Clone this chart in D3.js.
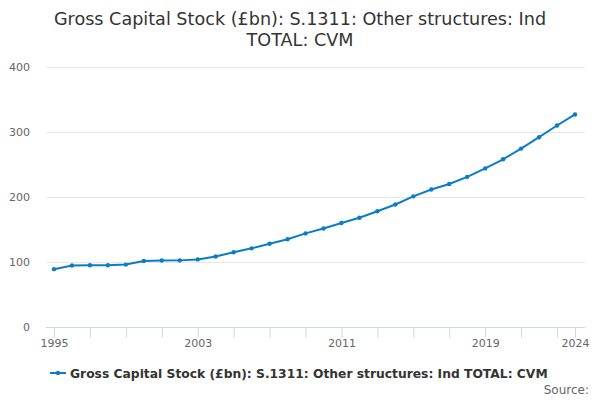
<!DOCTYPE html>
<html>
<head>
<meta charset="utf-8">
<script src="https://cdn.jsdelivr.net/npm/d3@7"></script>
<style>
  body { margin: 0; background: #fff; }
  text { font-family: "DejaVu Sans", sans-serif; }
</style>
</head>
<body>
<div id="chart"></div>
<script>
// data
var years = d3.range(1995, 2025);
var values = [89, 94.6, 95, 95, 96, 101.5, 102.3, 102.5, 104, 108.5,
    115, 121, 128, 135, 144, 151.5, 160, 168, 178, 188.5,
    201, 211.5, 220, 231, 244, 258, 274.5, 292, 310, 327];
var yTicks = [0, 100, 200, 300, 400];
var xLabels = [1995, 2003, 2011, 2019, 2024];
var seriesName = "Gross Capital Stock (£bn): S.1311: Other structures: Ind TOTAL: CVM";

var width = 600;
var height = 400;
var lineColor = "#0b7dc6";

var svg = d3.select("#chart")
    .append("svg")
    .attr("width", width)
    .attr("height", height);

// title
var title = svg.append("text")
    .attr("text-anchor", "middle")
    .attr("fill", "#333")
    .style("font-size", "17.6px");
title.append("tspan").attr("x", 300).attr("y", 25)
    .text("Gross Capital Stock (£bn): S.1311: Other structures: Ind");
title.append("tspan").attr("x", 300).attr("y", 46)
    .text("TOTAL: CVM");

var xScale = d3.scaleLinear()
    .domain([1995, 2024])
    .range([54, 575]);

var yScale = d3.scaleLinear()
    .domain([0, 400])
    .range([327, 67]);

// gridlines
svg.append("g")
    .selectAll("line")
    .data(yTicks)
    .enter()
    .append("line")
    .attr("x1", 46)
    .attr("x2", 585)
    .attr("y1", function (d) { return yScale(d) + 0.5; })
    .attr("y2", function (d) { return yScale(d) + 0.5; })
    .attr("stroke", "#e6e6e6");

// y labels
svg.append("g")
    .selectAll("text")
    .data(yTicks)
    .enter()
    .append("text")
    .attr("x", 30)
    .attr("y", function (d) { return yScale(d) + 4; })
    .attr("text-anchor", "end")
    .attr("fill", "#666")
    .style("font-size", "11px")
    .text(function (d) { return d; });

// x axis
var xTickVals = d3.range(1995, 2024, 2).concat([2024]);
var xAxis = d3.axisBottom(xScale)
    .tickValues(xTickVals)
    .tickSize(10)
    .tickFormat(function (d) { return xLabels.indexOf(d) >= 0 ? d : ""; });

var xg = svg.append("g")
    .attr("transform", "translate(0, 327.5)")
    .call(xAxis);
xg.select(".domain")
    .attr("d", "M46,0H585")
    .attr("stroke", "#ccd6eb");
xg.selectAll(".tick line").attr("stroke", "#ccd6eb");
xg.selectAll(".tick text")
    .attr("fill", "#666")
    .attr("y", 12)
    .style("font-size", "11px")
    .style("font-family", "DejaVu Sans, sans-serif");

// line
var line = d3.line()
    .x(function (d, i) { return xScale(years[i]); })
    .y(function (d) { return yScale(d); });

svg.append("path")
    .datum(values)
    .attr("d", line)
    .attr("fill", "none")
    .attr("stroke", lineColor)
    .attr("stroke-width", 2);

svg.append("g")
    .selectAll("circle")
    .data(values)
    .enter()
    .append("circle")
    .attr("cx", function (d, i) { return xScale(years[i]); })
    .attr("cy", function (d) { return yScale(d); })
    .attr("r", 2.2)
    .attr("fill", lineColor);

// legend
var legend = svg.append("g").attr("transform", "translate(50, 373)");
legend.append("line")
    .attr("x1", 0).attr("x2", 16)
    .attr("stroke", lineColor)
    .attr("stroke-width", 2);
legend.append("circle")
    .attr("cx", 8).attr("r", 2.2)
    .attr("fill", lineColor);
legend.append("text")
    .attr("x", 20)
    .attr("y", 4.5)
    .attr("fill", "#333")
    .style("font-size", "12.3px")
    .style("font-weight", "bold")
    .text(seriesName);

// credits
svg.append("text")
    .attr("x", 589)
    .attr("y", 394)
    .attr("text-anchor", "end")
    .attr("fill", "#666")
    .style("font-size", "12px")
    .text("Source:");
</script>
</body>
</html>
